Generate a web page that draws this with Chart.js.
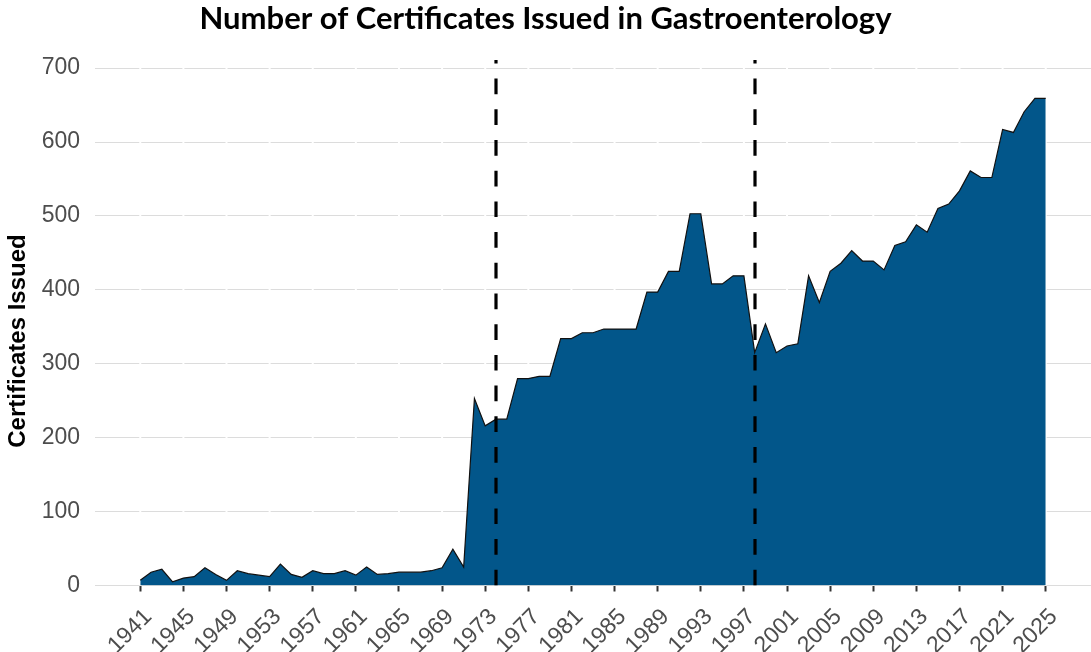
<!DOCTYPE html>
<html>
<head>
<meta charset="utf-8">
<script src="https://cdn.jsdelivr.net/npm/chart.js@4.4.1/dist/chart.umd.min.js"></script>
<style>
  html, body { margin: 0; padding: 0; background: #ffffff; }
  #wrap { width: 1091px; height: 652px; }
</style>
</head>
<body>
<div id="wrap"><canvas id="c" width="1091" height="652"></canvas></div>
<script>
const years = [
  1941,1942,1943,1944,1945,1946,1947,1948,1949,1950,
  1951,1952,1953,1954,1955,1956,1957,1958,1959,1960,
  1961,1962,1963,1964,1965,1966,1967,1968,1969,1970,
  1971,1972,1973,1974,1975,1976,1977,1978,1979,1980,
  1981,1982,1983,1984,1985,1986,1987,1988,1989,1990,
  1991,1992,1993,1994,1995,1996,1997,1998,1999,2000,
  2001,2002,2003,2004,2005,2006,2007,2008,2009,2010,
  2011,2012,2013,2014,2015,2016,2017,2018,2019,2020,
  2021,2022,2023,2024,2025
];
const certificates = [
  7,18,22,5,10,12,24,15,7,20,
  16,14,12,29,15,11,20,16,16,20,
  14,25,15,16,18,18,18,20,24,49,
  25,253,216,225,225,280,280,283,283,334,
  334,342,342,347,347,347,347,397,397,425,
  425,503,503,408,408,419,419,315,354,315,
  324,327,419,383,425,436,453,439,439,427,
  460,465,488,478,510,516,534,561,552,552,
  617,613,641,659,659
];
const xTickYears = [1941,1945,1949,1953,1957,1961,1965,1969,1973,1977,1981,1985,1989,1993,1997,2001,2005,2009,2013,2017,2021,2025];
const yTickValues = [0,100,200,300,400,500,600,700];
const markerYears = [1974, 1998];
const yAxisTitle = 'Certificates Issued';

const points = years.map((y, i) => ({ x: y, y: certificates[i] }));

const tickWhiteLines = {
  id: 'tickWhiteLines',
  beforeDatasetsDraw(chart) {
    const { ctx, chartArea, scales } = chart;
    ctx.save();
    ctx.strokeStyle = '#ffffff';
    ctx.lineWidth = 2;
    xTickYears.forEach(yr => {
      const px = scales.x.getPixelForValue(yr);
      ctx.beginPath();
      ctx.moveTo(px, chartArea.top);
      ctx.lineTo(px, chartArea.bottom);
      ctx.stroke();
    });
    ctx.restore();
  }
};

const markerLines = {
  id: 'markerLines',
  afterDatasetsDraw(chart) {
    const { ctx, chartArea, scales } = chart;
    ctx.save();
    ctx.beginPath();
    ctx.rect(chartArea.left, chartArea.top, chartArea.right - chartArea.left, chartArea.bottom - chartArea.top);
    ctx.clip();
    ctx.strokeStyle = '#000000';
    ctx.lineWidth = 3.2;
    ctx.setLineDash([15.7, 15]);
    markerYears.forEach(yr => {
      const px = Math.round(scales.x.getPixelForValue(yr));
      ctx.beginPath();
      ctx.moveTo(px, chartArea.bottom);
      ctx.lineTo(px, chartArea.top);
      ctx.stroke();
    });
    ctx.restore();
  }
};

const yTitlePlugin = {
  id: 'yTitlePlugin',
  afterDraw(chart) {
    const { ctx } = chart;
    ctx.save();
    ctx.translate(18, 341);
    ctx.rotate(-Math.PI / 2);
    ctx.fillStyle = '#000000';
    ctx.font = 'bold 24px "Liberation Sans", Arial, sans-serif';
    ctx.textAlign = 'center';
    ctx.textBaseline = 'middle';
    ctx.fillText(yAxisTitle, 0, 0);
    ctx.restore();
  }
};

new Chart(document.getElementById('c'), {
  type: 'line',
  data: {
    datasets: [{
      data: points,
      fill: 'origin',
      backgroundColor: '#02568A',
      borderColor: '#111111',
      borderWidth: 1.2,
      pointRadius: 0,
      tension: 0
    }]
  },
  options: {
    responsive: false,
    animation: false,
    devicePixelRatio: 1,
    layout: { padding: { left: 0, right: 0, top: 0, bottom: 0 } },
    plugins: {
      legend: { display: false },
      tooltip: { enabled: false },
      title: {
        display: true,
        text: 'Number of Certificates Issued in Gastroenterology',
        color: '#000000',
        font: { family: 'Lato', size: 31, weight: 'bold' },
        padding: { top: 0, bottom: 22.8 }
      }
    },
    scales: {
      x: {
        type: 'linear',
        min: 1936.8,
        max: 2029.2,
        afterBuildTicks: (s) => { s.ticks = xTickYears.map(v => ({ value: v })); },
        afterFit: (s) => { s.height = 66.5; },
        border: { display: false },
        grid: {
          drawOnChartArea: false,
          drawTicks: true,
          tickLength: 6,
          tickColor: '#333333',
          tickWidth: 2
        },
        ticks: {
          autoSkip: false,
          minRotation: 45,
          maxRotation: 45,
          padding: 12,
          labelOffset: 8,
          color: '#4d4d4d',
          font: { family: 'Liberation Sans', size: 23 },
          callback: (v) => String(v)
        }
      },
      y: {
        type: 'linear',
        min: 0,
        max: 711,
        afterBuildTicks: (s) => { s.ticks = yTickValues.map(v => ({ value: v })); },
        afterFit: (s) => { s.width = 95; },
        border: { display: false },
        grid: {
          color: '#dcdcdc',
          lineWidth: 1,
          drawTicks: false
        },
        ticks: {
          padding: 15,
          color: '#4d4d4d',
          font: { family: 'Liberation Sans', size: 23 }
        }
      }
    }
  },
  plugins: [tickWhiteLines, markerLines, yTitlePlugin]
});
</script>
</body>
</html>
